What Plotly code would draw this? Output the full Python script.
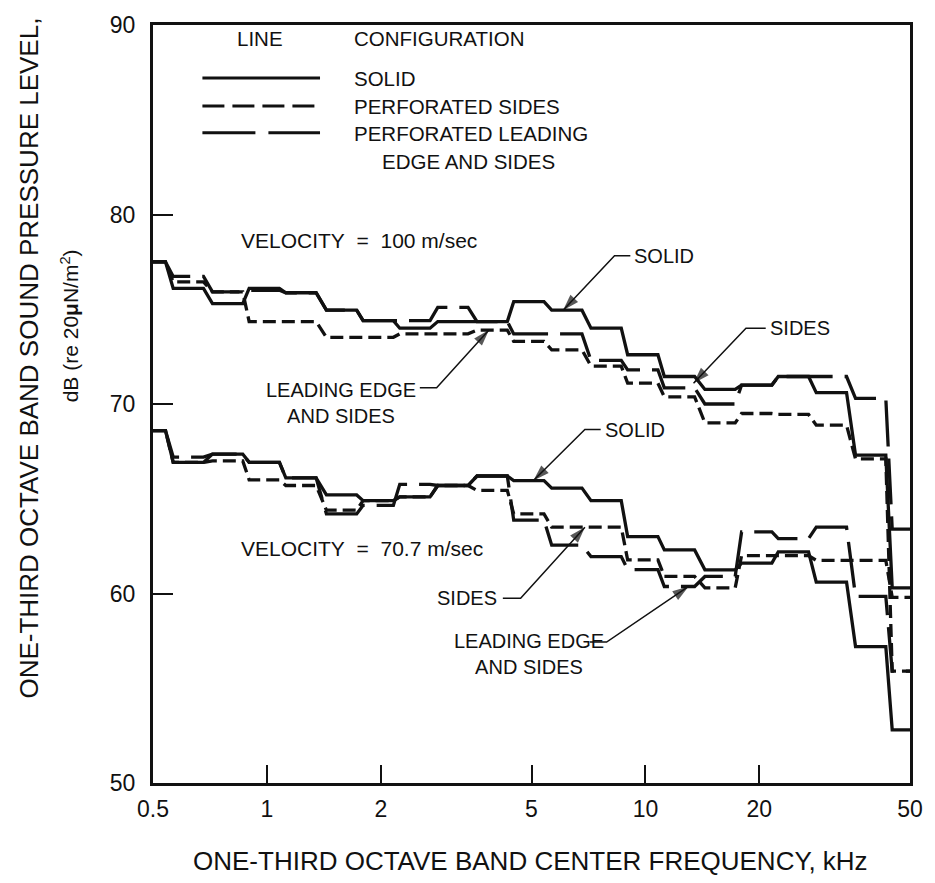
import numpy as np
import plotly.graph_objects as go

# One-third octave band centre frequencies, kHz
bands_khz = [0.5, 0.63, 0.8, 1.0, 1.25, 1.6, 2.0, 2.5, 3.15, 4.0, 5.0,
             6.3, 8.0, 10.0, 12.5, 16.0, 20.0, 25.0, 31.5, 40.0, 50.0]

# Band levels, dB re 20 uN/m^2 -- velocity 100 m/sec
spl_100_solid = [77.5, 76.1, 75.3, 76.1, 75.87, 74.95, 74.4, 74.0, 74.35, 74.35, 75.4,
                 74.95, 74.0, 72.6, 71.45, 70.77, 71.0, 71.45, 70.6, 67.3, 60.3]
spl_100_sides = [77.5, 76.44, 75.92, 74.35, 74.35, 73.52, 73.52, 73.7, 73.7, 73.9, 73.3,
                 72.86, 72.0, 71.1, 70.38, 69.0, 69.5, 69.45, 68.88, 67.1, 55.9]
spl_100_leading = [77.5, 76.73, 75.92, 76.0, 75.87, 74.95, 74.4, 74.4, 75.1, 74.35, 73.7,
                   73.7, 72.3, 71.8, 70.85, 70.0, 71.0, 71.45, 71.45, 70.3, 63.4]

# Band levels -- velocity 70.7 m/sec
spl_707_solid = [68.6, 66.92, 67.36, 66.92, 66.1, 65.2, 64.9, 65.1, 65.7, 66.2, 65.96,
                 65.56, 64.9, 63.0, 62.3, 61.25, 61.6, 62.2, 60.6, 57.2, 52.8]
spl_707_sides = [68.6, 66.92, 67.0, 66.0, 65.7, 64.4, 64.9, 65.1, 65.7, 65.44, 64.2,
                 63.5, 63.5, 61.77, 60.9, 60.3, 62.0, 62.0, 61.75, 61.75, 59.8]
spl_707_leading = [68.6, 67.2, 67.36, 66.92, 66.1, 64.2, 64.65, 65.76, 65.7, 66.2, 63.87,
                   62.55, 61.95, 61.26, 60.37, 60.9, 63.25, 62.9, 63.5, 59.85, 55.9]

x_ticks = [0.5, 1, 2, 5, 10, 20, 50]
x_ticktext = ["0.5", "1", "2", "5", "10", "20", "50"]
y_ticks = [50, 60, 70, 80, 90]

FONT = "Liberation Sans, Arial, sans-serif"
INK = "#111111"

LINE_STYLES = {
    "solid": dict(color=INK, width=3.3, dash="solid"),
    "sides": dict(color=INK, width=3.3, dash="13px,6px"),
    "leading": dict(color=INK, width=3.3, dash="46px,12px"),
}
KEY_STYLES = {
    "solid": dict(color=INK, width=3, dash="solid"),
    "sides": dict(color=INK, width=3, dash="22px,8px"),
    "leading": dict(color=INK, width=3, dash="53px,13px"),
}

X_RANGE = [np.log10(0.5), np.log10(50)]
Y_RANGE = [50, 90]


def staircase(values):
    """Plotter-style step trace: one flat run per band, short slanted risers."""
    xs, ys = [], []
    n = len(bands_khz)
    for i, (f, v) in enumerate(zip(bands_khz, values)):
        lo = f if i == 0 else f * 10 ** -0.047
        hi = f if i == n - 1 else f * 10 ** 0.033
        xs += [lo, hi]
        ys += [v, v]
    return xs, ys


fig = go.Figure()
for values, style in [
    (spl_100_solid, "solid"), (spl_100_sides, "sides"), (spl_100_leading, "leading"),
    (spl_707_solid, "solid"), (spl_707_sides, "sides"), (spl_707_leading, "leading"),
]:
    xs, ys = staircase(values)
    fig.add_trace(go.Scatter(x=xs, y=ys, mode="lines", line=LINE_STYLES[style],
                             showlegend=False, hoverinfo="skip"))

# Plot-area geometry in pixels, used for placing the style key and the notes
L, R, T, B = 153, 919, 19.5, 783
W, H = R - L, B - T


def px(x):
    return (x - L) / W


def py(y):
    return (B - y) / H


def pix_to_data(x, y):
    f = 10 ** (X_RANGE[0] + px(x) * (X_RANGE[1] - X_RANGE[0]))
    db = Y_RANGE[0] + py(y) * (Y_RANGE[1] - Y_RANGE[0])
    return f, db


shapes = []
annotations = []

# Line key
for y, style in [(73, "solid"), (101, "sides"), (128, "leading")]:
    shapes.append(dict(type="line", xref="paper", yref="paper",
                       x0=px(203), x1=px(322), y0=py(y), y1=py(y),
                       line=KEY_STYLES[style]))


def text(x, y, s, anchor="left", size=20):
    annotations.append(dict(xref="paper", yref="paper", x=px(x), y=py(y), text=s,
                            showarrow=False, xanchor=anchor, yanchor="middle",
                            align="center", font=dict(family=FONT, size=size, color=INK)))


text(261, 33, "LINE", "center", 20.5)
text(354, 33, "CONFIGURATION", "left", 20.5)
text(354, 73, "SOLID", "left", 20.5)
text(354, 102, "PERFORATED SIDES", "left", 20.5)
text(354, 129, "PERFORATED LEADING", "left", 20.5)
text(383, 157, "EDGE AND SIDES", "left", 20.5)

nb = "\u00a0"
text(240, 237, f"VELOCITY{nb}{nb}={nb}{nb}100 m/sec", "left", 21)
text(240, 547, f"VELOCITY{nb}{nb}={nb}{nb}70.7 m/sec", "left", 21)


def callout(tip_khz, tip_db, hook_start, hook_end):
    """Leader from a label: short horizontal hook, then a slanted line ending in an arrowhead."""
    f0, d0 = pix_to_data(*hook_start)
    f1, d1 = pix_to_data(*hook_end)
    fig.add_trace(go.Scatter(
        x=[f0, f1, tip_khz], y=[d0, d1, tip_db], mode="lines+markers",
        line=dict(color=INK, width=1.5),
        marker=dict(symbol=["circle", "circle", "arrow"], size=[0, 0, 17],
                    angleref="previous", color=INK, line=dict(width=0)),
        showlegend=False, hoverinfo="skip"))


# 100 m/sec callouts
callout(6.06, 74.95, (636, 252), (620, 252))
text(638, 252, "SOLID")
callout(13.4, 71.1, (773, 325), (753, 325))
text(775, 325, "SIDES")
callout(3.86, 73.9, (423, 385), (440, 385))
text(343, 400, "LEADING EDGE<br>AND SIDES", "center")

# 70.7 m/sec callouts
callout(5.06, 65.96, (606, 427), (590, 427))
text(608, 427, "SOLID")
callout(6.92, 63.5, (507, 597), (525, 597))
text(503, 597, "SIDES", "right")
callout(13.0, 60.37, (595, 641), (612, 641))
text(533, 653, "LEADING EDGE<br>AND SIDES", "center")

# Axis titles
text(535, 862, "ONE-THIRD OCTAVE BAND CENTER FREQUENCY, kHz", "center", 26)
annotations.append(dict(xref="paper", yref="paper", x=px(28), y=py(355),
                        text="ONE-THIRD OCTAVE BAND SOUND PRESSURE LEVEL,",
                        textangle=-90, showarrow=False, xanchor="center", yanchor="middle",
                        font=dict(family=FONT, size=26, color=INK)))
annotations.append(dict(xref="paper", yref="paper", x=px(69), y=py(322),
                        text="dB (re 20<b>\u03bc</b>N/m<sup>2</sup>)",
                        textangle=-90, showarrow=False, xanchor="center", yanchor="middle",
                        font=dict(family=FONT, size=21, color=INK)))

fig.update_layout(
    width=935, height=883,
    margin=dict(l=L, r=935 - R, t=T, b=883 - B, pad=0),
    paper_bgcolor="white", plot_bgcolor="white",
    font=dict(family=FONT, size=23, color=INK),
    shapes=shapes, annotations=annotations,
    showlegend=False,
)
fig.update_xaxes(type="log", range=X_RANGE,
                 tickvals=x_ticks, ticktext=x_ticktext,
                 ticks="inside", ticklen=18, tickwidth=2, tickcolor=INK,
                 showline=True, linewidth=3, linecolor=INK, mirror=True,
                 showgrid=False, zeroline=False, ticklabelstandoff=3)
fig.update_yaxes(range=Y_RANGE, tickvals=y_ticks,
                 ticks="inside", ticklen=20, tickwidth=2, tickcolor=INK,
                 showline=True, linewidth=3, linecolor=INK, mirror=True,
                 showgrid=False, zeroline=False, ticklabelstandoff=10)

fig.write_html("out.html")
